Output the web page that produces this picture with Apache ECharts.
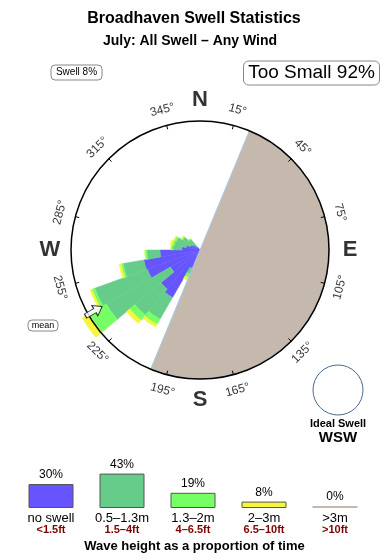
<!DOCTYPE html>
<html>
<head>
<meta charset="utf-8">
<script src="https://cdn.jsdelivr.net/npm/echarts@6/dist/echarts.min.js"></script>
<style>
html, body { margin: 0; padding: 0; background: #fff; }
#chart { width: 390px; height: 560px; }
</style>
</head>
<body>
<div id="chart"></div>
<script>
// swell rose: direction bins (centre, deg) and stacked length per height class
var dirs     = [205, 215, 225, 235, 245, 255, 265, 275, 285, 295, 305, 315];
var noSwell  = [15.5, 42.6, 39.5, 26.4, 43.4, 44.2, 31.0, 14.0, 10.9, 7.8, 6.2, 3.1];
var smallSw  = [4.7, 19.4, 26.4, 57.4, 43.4, 16.3, 10.1, 7.0, 9.3, 11.6, 9.3, 7.8];
var midSw    = [3.1, 4.7, 5.4, 15.5, 2.3, 1.6, 1.6, 1.6, 1.6, 1.6, 0.8, 0.8];
var bigSw    = [2.3, 2.3, 3.1, 6.2, 1.6, 1.6, 0, 0, 1.6, 0.8, 0.8, 0];

// too small sector (bearings) and mean direction
var tooSmallFrom = 22.5;
var tooSmallSpan = 180;
var meanDir = 240;

// ring labels
var tickAngles = [15, 45, 75, 105, 135, 165, 195, 225, 255, 285, 315, 345];
var compass = [['N', 360], ['E', 90], ['S', 180], ['W', 270]];

// wave height legend
var classNames  = ['no swell', '0.5–1.3m', '1.3–2m', '2–3m', '>3m'];
var classFeet   = ['<1.5ft', '1.5–4ft', '4–6.5ft', '6.5–10ft', '>10ft'];
var classPct    = [30, 43, 19, 8, 0];
var classColors = ['#6655ff', '#66cc8a', '#77ff66', '#f6f63c', '#c4b9ac'];

var FONT = '"Liberation Sans", Arial, sans-serif';

// 36 bins of 10 deg
var cats = [];
for (var i = 0; i < 36; i++) cats.push(String(i * 10 + 5));
function toBins(vals) {
    var arr = [];
    for (var k = 0; k < 36; k++) arr.push(0);
    dirs.forEach(function (d, j) { arr[(d - 5) / 10] = vals[j]; });
    return arr;
}

function roseSeries(name, vals, color) {
    return {
        name: name,
        type: 'bar',
        coordinateSystem: 'polar',
        polarIndex: 0,
        stack: 'rose',
        barWidth: '100%',
        barCategoryGap: '0%',
        clip: false,
        data: toBins(vals),
        itemStyle: { color: color, borderColor: color, borderWidth: 0.5 },
        silent: true
    };
}

// tick labels, rotated along the ring
var tickData = tickAngles.map(function (a) {
    var rot;
    if (a < 90) rot = -a;
    else if (a > 270) rot = 360 - a;
    else rot = 180 - a;
    return { value: [112.4, a], label: { rotate: rot } };
});

var chart = echarts.init(document.getElementById('chart'));
var option = {
    animation: false,
    polar: [
        { center: [200, 250], radius: 129 },
        { center: [200, 250], radius: 129 }
    ],
    angleAxis: [
        { polarIndex: 0, type: 'category', data: cats, startAngle: 90, clockwise: true, show: false },
        {
            polarIndex: 1, type: 'value', min: 15, max: 375, interval: 30,
            startAngle: 75, clockwise: true, z: 10,
            axisLine: { lineStyle: { color: '#000', width: 1.5 } },
            axisTick: { inside: true, length: 4, lineStyle: { color: '#000', width: 1 } },
            axisLabel: { show: false },
            splitLine: { show: false }
        }
    ],
    radiusAxis: [
        { polarIndex: 0, min: 0, max: 100, show: false },
        { polarIndex: 1, min: 0, max: 100, show: false }
    ],
    grid: { left: 15.5, right: 19.5, top: 468, height: 40 },
    xAxis: {
        gridIndex: 0, type: 'category', data: classNames,
        axisLine: { show: false }, axisTick: { show: false },
        axisLabel: {
            interval: 0, margin: 4,
            formatter: function (v, i) { return '{a|' + v + '}\n{b|' + classFeet[i] + '}'; },
            rich: {
                a: { fontFamily: FONT, fontSize: 13, color: '#000', lineHeight: 12 },
                b: { fontFamily: FONT, fontSize: 11, fontWeight: 'bold', color: '#800000', lineHeight: 12 }
            }
        }
    },
    yAxis: { gridIndex: 0, type: 'value', min: 0, max: 50, show: false },
    series: [
        roseSeries('no swell', noSwell, classColors[0]),
        roseSeries('0.5-1.3m', smallSw, classColors[1]),
        roseSeries('1.3-2m', midSw, classColors[2]),
        roseSeries('2-3m', bigSw, classColors[3]),
        {
            type: 'pie', center: [200, 250], radius: 129, z: 3, silent: true,
            startAngle: 90 - tooSmallFrom, clockwise: true,
            label: { show: false }, labelLine: { show: false },
            data: [
                { value: tooSmallSpan, itemStyle: { color: '#c4b9ac', borderColor: '#a6c8ea', borderWidth: 1 } },
                { value: 360 - tooSmallSpan, itemStyle: { color: 'rgba(0,0,0,0)' } }
            ]
        },
        {
            type: 'scatter', coordinateSystem: 'polar', polarIndex: 1, clip: false, silent: true,
            symbolSize: 1, itemStyle: { color: 'rgba(0,0,0,0)' }, z: 11,
            data: tickData,
            label: {
                show: true, position: 'inside', fontFamily: FONT, fontSize: 12, color: '#000',
                formatter: function (p) { return p.value[1] + '°'; }
            }
        },
        {
            type: 'scatter', coordinateSystem: 'polar', polarIndex: 1, clip: false, silent: true,
            symbolSize: 1, itemStyle: { color: 'rgba(0,0,0,0)' }, z: 11,
            data: compass.map(function (c) { return { name: c[0], value: [116.3, c[1]] }; }),
            label: {
                show: true, position: 'inside', fontFamily: FONT, fontSize: 22, fontWeight: 'bold', color: '#000',
                formatter: '{b}'
            }
        },
        {
            type: 'scatter', coordinateSystem: 'polar', polarIndex: 1, clip: false, silent: true, z: 12,
            symbol: 'path://M5,0 L10,7 L7,7 L7,16 L3,16 L3,7 L0,7 Z',
            symbolSize: [12, 19], symbolRotate: -(meanDir - 180),
            itemStyle: { color: '#fff', borderColor: '#000', borderWidth: 1 },
            data: [[95, meanDir]]
        },
        {
            type: 'bar', xAxisIndex: 0, yAxisIndex: 0, barWidth: 45, barMinHeight: 2, silent: true,
            data: classPct.map(function (v, i) {
                return { value: v, itemStyle: { color: classColors[i], borderColor: '#555', borderWidth: v > 0 ? 1 : 0 } };
            }),
            label: { show: true, position: 'top', distance: 3, fontFamily: FONT, fontSize: 12, color: '#000', formatter: '{c}%' }
        }
    ],
    graphic: [
        { type: 'text', x: 194, y: 19, style: { text: 'Broadhaven Swell Statistics', font: 'bold 16px ' + FONT, fill: '#000', align: 'center', verticalAlign: 'middle' } },
        { type: 'text', x: 190, y: 41, style: { text: 'July: All Swell – Any Wind', font: 'bold 14px ' + FONT, fill: '#000', align: 'center', verticalAlign: 'middle' } },
        { type: 'rect', shape: { x: 51, y: 65, width: 51, height: 15, r: 4 }, style: { fill: '#fff', stroke: '#888', lineWidth: 1 } },
        { type: 'text', x: 76.5, y: 72.5, style: { text: 'Swell 8%', font: '10px ' + FONT, fill: '#000', align: 'center', verticalAlign: 'middle' } },
        { type: 'rect', shape: { x: 243.5, y: 61, width: 136, height: 24, r: 5 }, style: { fill: '#fff', stroke: '#888', lineWidth: 1 } },
        { type: 'text', x: 311.5, y: 73, style: { text: 'Too Small 92%', font: '19px ' + FONT, fill: '#000', align: 'center', verticalAlign: 'middle' } },
        { type: 'rect', shape: { x: 28, y: 320, width: 30, height: 11, r: 4 }, style: { fill: '#fff', stroke: '#888', lineWidth: 1 } },
        { type: 'text', x: 43, y: 325.5, style: { text: 'mean', font: '9px ' + FONT, fill: '#000', align: 'center', verticalAlign: 'middle' } },
        { type: 'circle', shape: { cx: 338, cy: 390, r: 25 }, style: { fill: 'none', stroke: '#4a6a8a', lineWidth: 1 } },
        { type: 'text', x: 338, y: 424, style: { text: 'Ideal Swell', font: 'bold 11px ' + FONT, fill: '#000', align: 'center', verticalAlign: 'middle' } },
        { type: 'text', x: 338, y: 437.5, style: { text: 'WSW', font: 'bold 15px ' + FONT, fill: '#000', align: 'center', verticalAlign: 'middle' } },
        { type: 'text', x: 194.5, y: 546, style: { text: 'Wave height as a proportion of time', font: 'bold 13px ' + FONT, fill: '#000', align: 'center', verticalAlign: 'middle' } }
    ]
};
chart.setOption(option);
</script>
</body>
</html>
